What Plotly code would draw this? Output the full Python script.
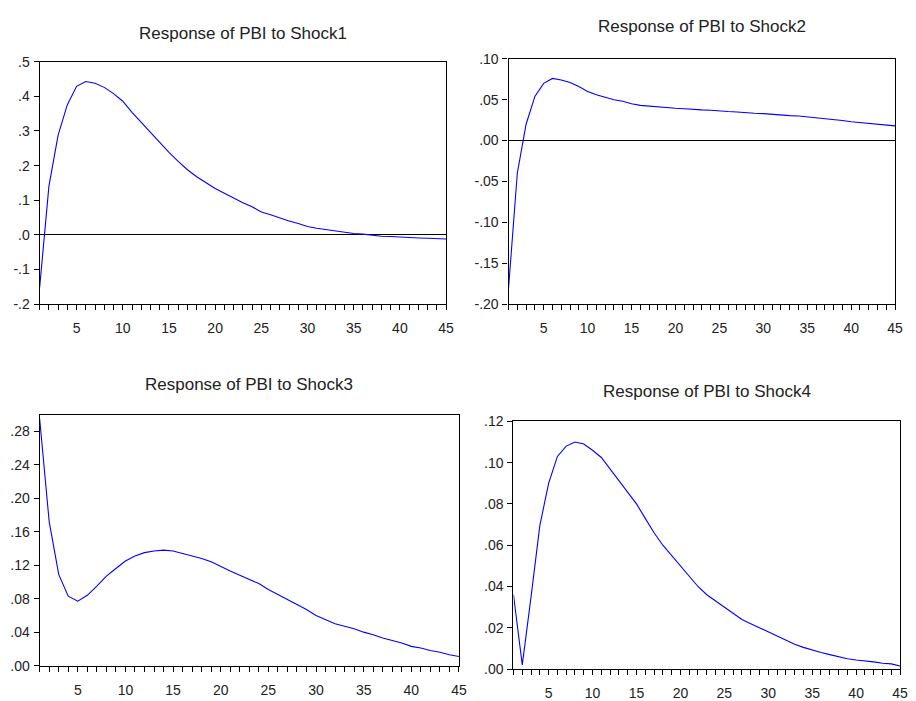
import plotly.graph_objects as go

periods = list(range(1, 46))

shock1 = [-0.152, 0.140, 0.288, 0.376, 0.429, 0.443, 0.438, 0.426, 0.408, 0.386,
          0.354, 0.325, 0.294, 0.265, 0.238, 0.212, 0.188, 0.168, 0.150, 0.134,
          0.120, 0.106, 0.093, 0.081, 0.066, 0.058, 0.048, 0.040, 0.033, 0.024,
          0.019, 0.015, 0.010, 0.006, 0.004, 0.002, -0.002, -0.004, -0.005, -0.007,
          -0.008, -0.009, -0.010, -0.011, -0.012]

shock2 = [-0.181, -0.040, 0.020, 0.054, 0.070, 0.076, 0.074, 0.071, 0.066, 0.060,
          0.056, 0.053, 0.050, 0.048, 0.045, 0.043, 0.042, 0.041, 0.040, 0.0395,
          0.039, 0.038, 0.0375, 0.037, 0.036, 0.0355, 0.035, 0.034, 0.0335, 0.033,
          0.032, 0.031, 0.0305, 0.030, 0.029, 0.028, 0.027, 0.026, 0.0245, 0.023,
          0.022, 0.021, 0.020, 0.019, 0.018]

shock3 = [0.295, 0.172, 0.109, 0.083, 0.077, 0.084, 0.095, 0.107, 0.116, 0.125,
          0.131, 0.135, 0.137, 0.138, 0.137, 0.134, 0.131, 0.128, 0.124, 0.118,
          0.113, 0.108, 0.103, 0.098, 0.091, 0.085, 0.078, 0.073, 0.067, 0.060,
          0.055, 0.050, 0.047, 0.044, 0.040, 0.037, 0.033, 0.030, 0.027, 0.023,
          0.021, 0.018, 0.016, 0.013, 0.011]

shock4 = [0.036, 0.002, 0.035, 0.0695, 0.090, 0.103, 0.108, 0.110, 0.109, 0.106,
          0.1025, 0.097, 0.091, 0.086, 0.080, 0.073, 0.066, 0.060, 0.055, 0.050,
          0.045, 0.040, 0.036, 0.033, 0.030, 0.027, 0.024, 0.022, 0.020, 0.018,
          0.016, 0.014, 0.012, 0.0105, 0.0092, 0.008, 0.007, 0.006, 0.005, 0.0044,
          0.004, 0.0035, 0.0028, 0.0025, 0.0015]

titles = ["Response of PBI to Shock1", "Response of PBI to Shock2",
          "Response of PBI to Shock3", "Response of PBI to Shock4"]

y1_vals = [-0.2, -0.1, 0.0, 0.1, 0.2, 0.3, 0.4, 0.5]
y1_text = ["-.2", "-.1", ".0", ".1", ".2", ".3", ".4", ".5"]
y2_vals = [-0.20, -0.15, -0.10, -0.05, 0.00, 0.05, 0.10]
y2_text = ["-.20", "-.15", "-.10", "-.05", ".00", ".05", ".10"]
y3_vals = [0.00, 0.04, 0.08, 0.12, 0.16, 0.20, 0.24, 0.28]
y3_text = [".00", ".04", ".08", ".12", ".16", ".20", ".24", ".28"]
y4_vals = [0.00, 0.02, 0.04, 0.06, 0.08, 0.10, 0.12]
y4_text = [".00", ".02", ".04", ".06", ".08", ".10", ".12"]
x_ticks = [5, 10, 15, 20, 25, 30, 35, 40, 45]

W, H = 916, 701
# panel boxes in page pixels: (left, right, top, bottom)
boxes = [(40, 450, 55, 303), (513, 903, 52, 303), (40, 463, 416, 673), (518, 908, 423, 676.5)]
yranges = [[-0.2, 0.5], [-0.2, 0.1], [0.0, 0.30], [0.0, 0.12]]
yticks = [(y1_vals, y1_text), (y2_vals, y2_text), (y3_vals, y3_text), (y4_vals, y4_text)]
series = [shock1, shock2, shock3, shock4]
zeroline = [True, True, False, False]
title_y = [26, 19, 385, 392]


def clamp(v):
    return min(1.0, max(0.0, v))


font_family = "Liberation Sans, Arial, sans-serif"
fig = go.Figure()
layout = dict(width=W, height=H, margin=dict(l=0, r=0, t=0, b=0, pad=0),
              paper_bgcolor="white", plot_bgcolor="white", showlegend=False,
              font=dict(family=font_family, size=13, color="#222222"))
annotations = []
for i in range(4):
    l, r, t, b = boxes[i]
    xa = "xaxis" if i == 0 else f"xaxis{i+1}"
    ya = "yaxis" if i == 0 else f"yaxis{i+1}"
    xref = "x" if i == 0 else f"x{i+1}"
    yref = "y" if i == 0 else f"y{i+1}"
    fig.add_trace(go.Scatter(x=periods, y=series[i], mode="lines",
                             line=dict(color="#0000FF", width=1.1),
                             xaxis=xref, yaxis=yref, hoverinfo="skip"))
    layout[xa] = dict(domain=[clamp(l / W), clamp(r / W)], range=[1, 45], anchor=yref,
                      showline=True, linecolor="black", linewidth=1.2, mirror=True,
                      showgrid=False, zeroline=False,
                      tickmode="array", tickvals=x_ticks, ticktext=[str(v) for v in x_ticks],
                      ticks="outside", ticklen=5, tickcolor="black", tickwidth=1.2,
                      ticklabelstandoff=6,
                      minor=dict(tick0=1, dtick=1, ticks="outside", ticklen=5,
                                 tickcolor="black", tickwidth=1.2, showgrid=False),
                      tickfont=dict(size=14, color="#222222", family=font_family))
    layout[ya] = dict(domain=[clamp(1 - b / H), clamp(1 - t / H)], range=yranges[i], anchor=xref,
                      showline=True, linecolor="black", linewidth=1.2, mirror=True,
                      showgrid=False, zeroline=zeroline[i], zerolinecolor="black",
                      zerolinewidth=1.2,
                      tickmode="array", tickvals=yticks[i][0], ticktext=yticks[i][1],
                      ticks="outside", ticklen=5, tickcolor="black", tickwidth=1.2,
                      ticklabelstandoff=1,
                      tickfont=dict(size=14, color="#222222", family=font_family))
    annotations.append(dict(text=titles[i], x=(l + r) / 2 / W, y=1 - title_y[i] / H,
                            xref="paper", yref="paper", showarrow=False,
                            xanchor="center", yanchor="middle",
                            font=dict(size=17, color="#222222", family=font_family)))
layout["annotations"] = annotations
fig.update_layout(**layout)
fig.write_html("out.html", config={"displayModeBar": False},
               post_script="document.body.style.margin='0px'; document.body.style.overflow='hidden';")
